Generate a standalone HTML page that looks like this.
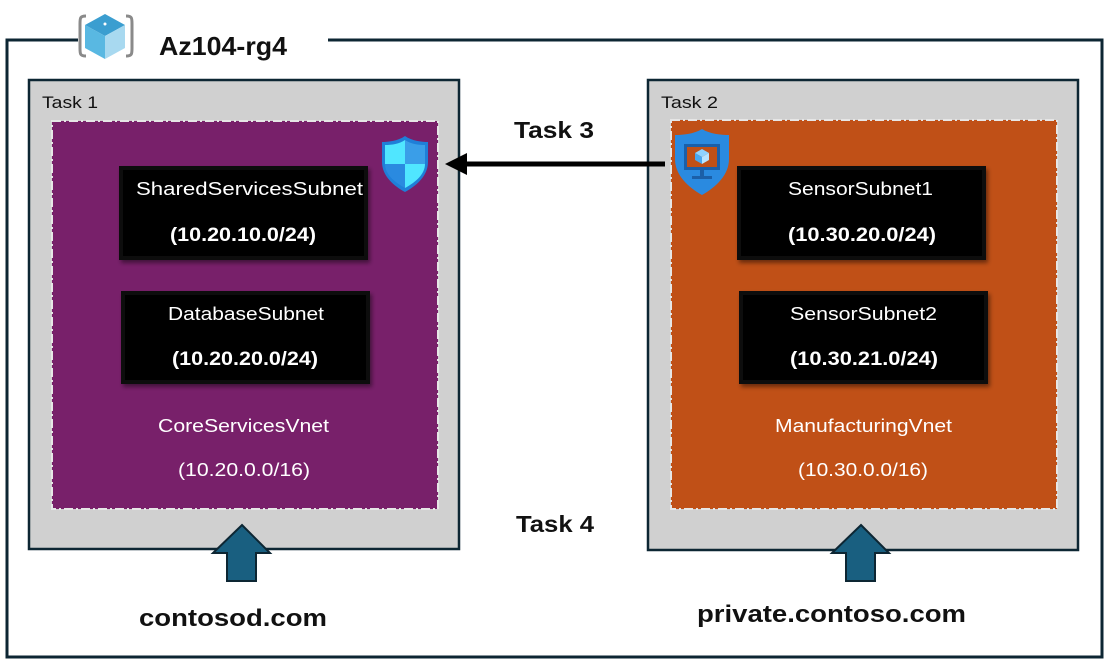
<!DOCTYPE html>
<html><head><meta charset="utf-8"><style>
html,body{margin:0;padding:0;background:#fff;}
svg{display:block;font-family:"Liberation Sans",sans-serif;}
</style></head><body>
<svg width="1111" height="660" viewBox="0 0 1111 660" xmlns="http://www.w3.org/2000/svg">
<defs>
<filter id="sh" x="-10%" y="-10%" width="130%" height="140%"><feDropShadow dx="2" dy="3" stdDeviation="2" flood-color="#000" flood-opacity="0.45"/></filter>
</defs>
<path d="M78 40 L7 40 L7 657 L1102 657 L1102 40 L328 40" fill="none" stroke="#0d2633" stroke-width="3"/>
<g>
<path d="M86 16 C80 16 80 18 80 24 L80 48 C80 54 80 56 86 56" fill="none" stroke="#8a8a8a" stroke-width="3"/>
<path d="M126 16 C132 16 132 18 132 24 L132 48 C132 54 132 56 126 56" fill="none" stroke="#8a8a8a" stroke-width="3"/>
<polygon points="105,14 125,25 105,36 85,25" fill="#3b9ed0"/>
<polygon points="85,25 105,36 105,59 85,48" fill="#59b8e2"/>
<polygon points="125,25 105,36 105,59 125,48" fill="#a8d9f0"/>
<circle cx="105" cy="24" r="1.5" fill="#fff"/>
</g>
<text x="159" y="55" font-size="26" font-weight="bold" fill="#111" textLength="128" lengthAdjust="spacingAndGlyphs">Az104-rg4</text>

<rect x="29" y="80" width="430" height="469" fill="#d0d0d0" stroke="#0d2633" stroke-width="2.5"/>
<text x="42" y="108" font-size="17" fill="#111" textLength="56" lengthAdjust="spacingAndGlyphs">Task 1</text>
<rect x="52" y="121" width="386" height="388" fill="#78206a" stroke="#e6e6e6" stroke-width="2" stroke-dasharray="9,3,2,3"/>
<g transform="translate(380,136)">
<path d="M25 0 C18 5 8 6 2 6 L2 26 C2 40 14 50 25 56 C36 50 48 40 48 26 L48 6 C42 6 32 5 25 0 Z" fill="#1f7fd8"/>
<path d="M25 4 L25 28 L5 28 L5 9 C12 9 19 8 25 4 Z" fill="#50e6ff"/>
<path d="M25 4 C31 8 38 9 45 9 L45 28 L25 28 Z" fill="#3a9ee8"/>
<path d="M5 28 L25 28 L25 52 C14 46 5 38 5 28 Z" fill="#2a8ae0"/>
<path d="M25 28 L45 28 C45 38 36 46 25 52 Z" fill="#50e6ff"/>
</g>
<rect x="121" y="168" width="245" height="90" fill="#000" stroke="#111" stroke-width="4" filter="url(#sh)"/>
<text x="136" y="195" font-size="18" fill="#fff" textLength="227" lengthAdjust="spacingAndGlyphs">SharedServicesSubnet</text>
<text x="170" y="241" font-size="19" font-weight="bold" fill="#fff" textLength="146" lengthAdjust="spacingAndGlyphs">(10.20.10.0/24)</text>
<rect x="123" y="293" width="245" height="89" fill="#000" stroke="#111" stroke-width="4" filter="url(#sh)"/>
<text x="168" y="320" font-size="18" fill="#fff" textLength="156" lengthAdjust="spacingAndGlyphs">DatabaseSubnet</text>
<text x="172" y="365" font-size="19" font-weight="bold" fill="#fff" textLength="146" lengthAdjust="spacingAndGlyphs">(10.20.20.0/24)</text>
<text x="158" y="432" font-size="18" fill="#fff" textLength="171" lengthAdjust="spacingAndGlyphs">CoreServicesVnet</text>
<text x="178" y="476" font-size="18" fill="#fff" textLength="132" lengthAdjust="spacingAndGlyphs">(10.20.0.0/16)</text>

<rect x="648" y="80" width="430" height="470" fill="#d0d0d0" stroke="#0d2633" stroke-width="2.5"/>
<text x="661" y="108" font-size="17" fill="#111" textLength="57" lengthAdjust="spacingAndGlyphs">Task 2</text>
<rect x="671" y="120" width="386" height="389" fill="#c05017" stroke="#e6e6e6" stroke-width="2" stroke-dasharray="9,3,2,3"/>
<g transform="translate(674,129)">
<path d="M28 0 C20 5 9 6 1 6 L1 30 C1 46 14 58 28 66 C42 58 55 46 55 30 L55 6 C47 6 36 5 28 0 Z" fill="#2a8ae0"/>
<rect x="10" y="15" width="36" height="26" fill="#1b5fa8"/>
<rect x="13" y="18" width="30" height="20" fill="#c05017"/>
<polygon points="28,20 35,24 28,28 21,24" fill="#8fd3ff"/>
<polygon points="21,24 28,28 28,35 21,31" fill="#4aa8f0"/>
<polygon points="35,24 28,28 28,35 35,31" fill="#b8e4ff"/>
<rect x="26" y="41" width="4" height="6" fill="#1b5fa8"/>
<rect x="18" y="47" width="20" height="3" fill="#1b5fa8"/>
</g>
<rect x="739" y="168" width="245" height="90" fill="#000" stroke="#111" stroke-width="4" filter="url(#sh)"/>
<text x="788" y="195" font-size="18" fill="#fff" textLength="145" lengthAdjust="spacingAndGlyphs">SensorSubnet1</text>
<text x="788" y="241" font-size="19" font-weight="bold" fill="#fff" textLength="148" lengthAdjust="spacingAndGlyphs">(10.30.20.0/24)</text>
<rect x="741" y="293" width="245" height="89" fill="#000" stroke="#111" stroke-width="4" filter="url(#sh)"/>
<text x="790" y="320" font-size="18" fill="#fff" textLength="147" lengthAdjust="spacingAndGlyphs">SensorSubnet2</text>
<text x="790" y="365" font-size="19" font-weight="bold" fill="#fff" textLength="148" lengthAdjust="spacingAndGlyphs">(10.30.21.0/24)</text>
<text x="775" y="432" font-size="18" fill="#fff" textLength="177" lengthAdjust="spacingAndGlyphs">ManufacturingVnet</text>
<text x="798" y="476" font-size="18" fill="#fff" textLength="130" lengthAdjust="spacingAndGlyphs">(10.30.0.0/16)</text>

<line x1="665" y1="164" x2="462" y2="164" stroke="#000" stroke-width="5"/>
<polygon points="445,164 467,153 467,175" fill="#000"/>
<text x="514" y="138" font-size="23" font-weight="bold" fill="#111" textLength="80" lengthAdjust="spacingAndGlyphs">Task 3</text>
<text x="516" y="532" font-size="23" font-weight="bold" fill="#111" textLength="78" lengthAdjust="spacingAndGlyphs">Task 4</text>

<polygon points="242,525 270,553 256,553 256,581 227,581 227,553 213,553" fill="#195f80" stroke="#0d2633" stroke-width="2"/>
<polygon points="861,525 889,553 875,553 875,581 846,581 846,553 832,553" fill="#195f80" stroke="#0d2633" stroke-width="2"/>
<text x="139" y="626" font-size="24" font-weight="bold" fill="#111" textLength="188" lengthAdjust="spacingAndGlyphs">contosod.com</text>
<text x="697" y="622" font-size="24" font-weight="bold" fill="#111" textLength="269" lengthAdjust="spacingAndGlyphs">private.contoso.com</text>
</svg>
</body></html>
